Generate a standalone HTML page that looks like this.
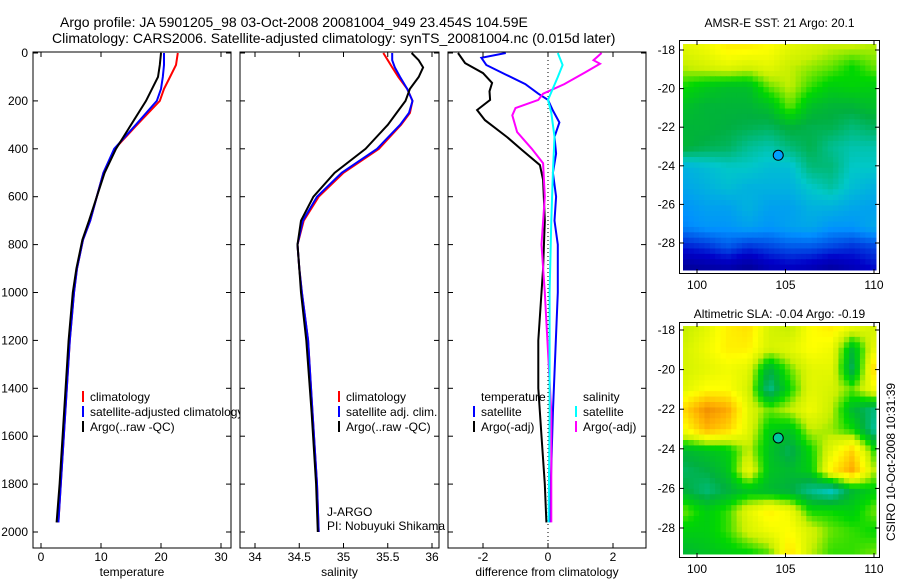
<!DOCTYPE html>
<html><head><meta charset="utf-8"><style>
body{margin:0;background:#fff;}
svg{display:block;font-family:"Liberation Sans",sans-serif;}
</style></head><body>
<svg id="s" width="900" height="580">
<text x="60" y="27" font-size="14">Argo profile: JA 5901205_98 03-Oct-2008 20081004_949 23.454S 104.59E</text>
<text x="52" y="43" font-size="14">Climatology: CARS2006. Satellite-adjusted climatology: synTS_20081004.nc (0.015d later)</text>
</svg>
<script>
const depthTicks=[0,200,400,600,800,1000,1200,1400,1600,1800,2000];
// temperature panel
const tDepth=[0,50,100,150,200,300,400,500,600,700,780,900,1000,1200,1400,1600,1800,1960];
const tClim=[22.8,22.5,21.5,20.5,19.8,16,12.3,10.4,9.3,8.2,7.0,6.0,5.5,4.8,4.3,3.8,3.3,2.9];
const tSat=[20.5,20.5,20.3,20,19.3,15.8,12.2,10.4,9.3,8.2,7.0,6.0,5.5,4.8,4.3,3.8,3.3,2.9];
const tArgo=[20,19.8,19.5,18.5,17.5,15,12.5,10.6,9.3,8.0,6.9,5.9,5.3,4.6,4.1,3.6,3.1,2.6];
// salinity panel
const sDepth=[0,30,60,100,150,200,250,300,400,500,600,700,800,900,1000,1200,1500,1800,2000];
const sClim=[35.45,35.5,35.55,35.62,35.72,35.78,35.75,35.65,35.4,35.0,34.72,34.55,34.48,34.5,34.53,34.6,34.65,34.7,34.72];
const sSat=[35.55,35.55,35.58,35.64,35.72,35.78,35.74,35.64,35.38,34.98,34.7,34.54,34.48,34.5,34.53,34.6,34.65,34.7,34.72];
const sArgo=[35.77,35.85,35.9,35.85,35.75,35.7,35.6,35.5,35.25,34.9,34.66,34.52,34.48,34.5,34.52,34.58,34.64,34.69,34.71];
// difference panel
const dTd=[0,42,84,125,160,196,238,280,351,405,468,530,700,900,1000,1200,1400,1600,1800,1960];
const dTargo=[-2.77,-2.55,-2.0,-1.72,-1.8,-1.78,-2.18,-1.94,-1.26,-0.8,-0.25,-0.15,-0.1,-0.15,-0.2,-0.3,-0.3,-0.2,-0.1,-0.05];
const dSd=[0,20,50,90,130,170,196,240,290,350,420,500,600,700,800,1000,1500,1960];
const dTsat=[-1.3,-2.05,-1.9,-1.3,-0.7,-0.3,0,0.15,0.35,0.2,0.25,0.15,0.25,0.2,0.3,0.3,0.15,0.05];
const dCd=[0,50,100,196,250,350,500,700,1000,1500,1960];
const dSsat=[0.3,0.45,0.3,0,0.1,0.2,0.15,0.1,0.05,0.05,0.02];
const dMd=[0,30,45,80,130,170,196,230,260,330,400,460,600,800,1000,1500,1800,1960];
const dSargo=[1.65,1.4,1.6,1.15,0.5,-0.15,-0.3,-1.0,-1.1,-0.95,-0.5,-0.15,-0.1,-0.2,-0.1,0.1,0.1,0.1];
// maps
const lonTicks=[100,105,110], latTicks=[-18,-20,-22,-24,-26,-28];
const sst=[[.70,.72,.76,.76,.74,.70,.68,.66,.66,.65],[.66,.68,.70,.68,.70,.66,.64,.62,.58,.62],[.58,.55,.53,.53,.62,.66,.60,.56,.57,.56],[.53,.51,.51,.51,.53,.62,.53,.51,.51,.53],[.51,.51,.50,.49,.48,.51,.49,.49,.46,.48],[.51,.49,.48,.44,.42,.46,.49,.44,.42,.42],[.36,.38,.40,.40,.38,.38,.46,.46,.40,.40],[.34,.36,.38,.36,.36,.36,.40,.43,.38,.36],[.31,.33,.33,.36,.33,.33,.36,.36,.34,.33],[.29,.31,.31,.33,.31,.33,.34,.31,.31,.34],[.18,.2,.24,.2,.22,.24,.24,.22,.2,.22],[.06,.08,.1,.06,.12,.14,.12,.08,.12,.16]];
const sla=[[.66,.70,.76,.78,.68,.66,.74,.76,.70,.68],[.68,.72,.76,.76,.68,.70,.74,.72,.52,.70],[.68,.70,.72,.70,.50,.62,.70,.70,.48,.78],[.70,.74,.74,.68,.44,.58,.70,.68,.62,.72],[.80,.90,.86,.70,.62,.66,.72,.66,.52,.46],[.74,.84,.80,.70,.56,.54,.66,.64,.58,.44],[.52,.54,.56,.66,.54,.48,.58,.70,.80,.60],[.48,.50,.54,.72,.54,.52,.56,.76,.86,.66],[.50,.46,.50,.54,.52,.50,.44,.40,.52,.56],[.62,.56,.60,.70,.76,.72,.58,.58,.56,.62],[.56,.56,.60,.68,.72,.74,.68,.62,.60,.58],[.52,.54,.56,.58,.62,.78,.66,.60,.60,.62]];

const S=document.getElementById('s'),NS='http://www.w3.org/2000/svg';
function mk(t,a,p){const e=document.createElementNS(NS,t);for(const k in a)e.setAttribute(k,a[k]);(p||S).appendChild(e);return e;}
const y0=53,yk=0.2395,Y=d=>y0+d*yk;
const panels=[
 {x0:33,x1:231,dx:41,dv:0,k:6,ticks:[0,10,20,30],lab:'temperature',name:'temperature'},
 {x0:240,x1:439,dx:255,dv:34,k:88.5,ticks:[34,34.5,35,35.5,36],lab:'salinity',name:'salinity'},
 {x0:448,x1:646,dx:548,dv:0,k:32.5,ticks:[-2,0,2],lab:'difference from climatology',name:'difference'}];
panels.forEach((p,i)=>{
 const g=mk('g',{});
 
 
 p.g=g;p.X=v=>p.dx+(v-p.dv)*p.k;
 mk('rect',{x:p.x0,y:52,width:p.x1-p.x0,height:496,fill:'#fff',stroke:'none'},g);
});
function line(p,ds,vs,col,name){
 const pts=ds.map((d,i)=>p.X(vs[i]).toFixed(1)+','+Y(d).toFixed(1)).join(' ');
 const e=mk('polyline',{points:pts,fill:'none',stroke:col,'stroke-width':2},p.g);
 
 
}
function legend(p,x,y,items){
 items.forEach((it,i)=>{
  mk('line',{x1:x,x2:x,y1:y+i*15-11,y2:y+i*15,stroke:it[0],'stroke-width':2},p.g);
  const t=mk('text',{x:x+7,y:y+i*15-1,'font-size':12},p.g);t.textContent=it[1];
  
  
 });
}
function frame(p,i){
 const g=p.g;
 mk('rect',{x:p.x0,y:52,width:p.x1-p.x0,height:496,fill:'none',stroke:'#000','stroke-width':1},g);
 depthTicks.forEach(d=>{mk('line',{x1:p.x0,x2:p.x0+5,y1:Y(d),y2:Y(d),stroke:'#000'},g);mk('line',{x1:p.x1-5,x2:p.x1,y1:Y(d),y2:Y(d),stroke:'#000'},g);
  if(i==0){const t=mk('text',{x:28,y:Y(d)+4,'font-size':12,'text-anchor':'end'});t.textContent=d;}});
 p.ticks.forEach(v=>{const x=p.X(v);mk('line',{x1:x,x2:x,y1:548,y2:543,stroke:'#000'},g);mk('line',{x1:x,x2:x,y1:52,y2:57,stroke:'#000'},g);
  const t=mk('text',{x:x,y:561,'font-size':12,'text-anchor':'middle'},g);t.textContent=v;});
 const t=mk('text',{x:(p.x0+p.x1)/2,y:576,'font-size':12,'text-anchor':'middle'},g);t.textContent=p.lab;
 
 
}
let p=panels[0];
line(p,tDepth,tClim,'#f00','temp-climatology-line');line(p,tDepth,tSat,'#00f','temp-satellite-line');line(p,tDepth,tArgo,'#000','temp-argo-line');
legend(p,83,402,[['#f00','climatology'],['#00f','satellite-adjusted climatology'],['#000','Argo(..raw -QC)']]);
p=panels[1];
line(p,sDepth,sClim,'#f00','sal-climatology-line');line(p,sDepth,sSat,'#00f','sal-satellite-line');line(p,sDepth,sArgo,'#000','sal-argo-line');
legend(p,339,402,[['#f00','climatology'],['#00f','satellite adj. clim.'],['#000','Argo(..raw -QC)']]);
let t1=mk('text',{x:327,y:516,'font-size':12},p.g);t1.textContent='J-ARGO';
let t2=mk('text',{x:327,y:530,'font-size':12},p.g);t2.textContent='PI: Nobuyuki Shikama';
p=panels[2];
mk('line',{x1:548,x2:548,y1:52,y2:548,stroke:'#000','stroke-dasharray':'1,3'},p.g);
line(p,dTd,dTargo,'#000','diff-temp-argo-line');line(p,dSd,dTsat,'#00f','diff-temp-satellite-line');
line(p,dMd,dSargo,'#f0f','diff-sal-argo-line');line(p,dCd,dSsat,'#0ff','diff-sal-satellite-line');
legend(p,474,402,[['none','temperature'],['#00f','satellite'],['#000','Argo(-adj)']]);
legend(p,576,402,[['none','salinity'],['#0ff','satellite'],['#f0f','Argo(-adj)']]);
panels.forEach((p,i)=>frame(p,i));

const stops=[[0,[0,0,127]],[.15,[0,0,200]],[.3,[0,144,255]],[.4,[0,200,200]],[.5,[0,176,64]],[.58,[0,216,0]],[.66,[200,240,0]],[.74,[255,255,0]],[.85,[255,176,0]],[1,[216,80,0]]];
function cmap(v){for(let i=1;i<stops.length;i++)if(v<=stops[i][0]){const a=stops[i-1],b=stops[i],f=(v-a[0])/(b[0]-a[0]);return 'rgb('+a[1].map((c,j)=>Math.round(c+(b[1][j]-c)*f)).join(',')+')';}return 'rgb(216,80,0)';}
function map(grid,x0,x1,yA,yB,latTop,latK,title,ty,name,cy){
 const g=mk('g',{});
 
 
 const R=grid.length,C=grid[0].length,NX=36,NY=42,w=(x1-x0)/NX,h=(yB-yA)/NY;
 for(let j=0;j<NY;j++)for(let i=0;i<NX;i++){
  const fx=i/(NX-1)*(C-1),fy=j/(NY-1)*(R-1),ix=Math.min(Math.floor(fx),C-2),iy=Math.min(Math.floor(fy),R-2),ax=fx-ix,ay=fy-iy;
  const v=grid[iy][ix]*(1-ax)*(1-ay)+grid[iy][ix+1]*ax*(1-ay)+grid[iy+1][ix]*(1-ax)*ay+grid[iy+1][ix+1]*ax*ay;
  mk('rect',{x:(x0+i*w).toFixed(2),y:(yA+j*h).toFixed(2),width:(w+0.6).toFixed(2),height:(h+0.6).toFixed(2),fill:cmap(v)},g);}
 mk('rect',{x:x0-2,y:yA-2,width:x1-x0+4,height:yB-yA+4,fill:'none',stroke:'#fff','stroke-width':3},g);
 mk('rect',{x:x0-3.5,y:yA-3.5,width:x1-x0+7,height:yB-yA+7,fill:'none',stroke:'#000'},g);
 const LX=v=>697+(v-100)*17.7;
 lonTicks.forEach(v=>{const x=LX(v);mk('line',{x1:x,x2:x,y1:yB+3.5,y2:yB-1,stroke:'#000'},g);mk('line',{x1:x,x2:x,y1:yA-3.5,y2:yA+1,stroke:'#000'},g);
  const t=mk('text',{x:x,y:yB+19,'font-size':12,'text-anchor':'middle'},g);t.textContent=v;});
 latTicks.forEach(v=>{const y=latTop+(-18-v)*latK;mk('line',{x1:x0-3.5,x2:x0+1,y1:y,y2:y,stroke:'#000'},g);mk('line',{x1:x1+3.5,x2:x1-1,y1:y,y2:y,stroke:'#000'},g);
  const t=mk('text',{x:x0-8,y:y+4,'font-size':12,'text-anchor':'end'},g);t.textContent=v;});
 const t=mk('text',{x:(x0+x1)/2,y:ty,'font-size':12,'text-anchor':'middle'},g);t.textContent=title;
 
 
 const c=mk('circle',{cx:LX(104.59),cy:latTop+5.454*latK,r:5,fill:cy,stroke:'#000'},g);
 
 
}
map(sst,683,876,44,270,50,19.3,'AMSR-E SST: 21 Argo: 20.1',27,'sst-map','#00a0ff');
map(sla,683,876,326,554,330,19.8,'Altimetric SLA: -0.04 Argo: -0.19',318,'sla-map','#00c8a0');
const tt=mk('text',{x:0,y:0,'font-size':12,'text-anchor':'middle',transform:'translate(895,462) rotate(-90)'});
tt.textContent='CSIRO 10-Oct-2008 10:31:39';


</script>
</body></html>
